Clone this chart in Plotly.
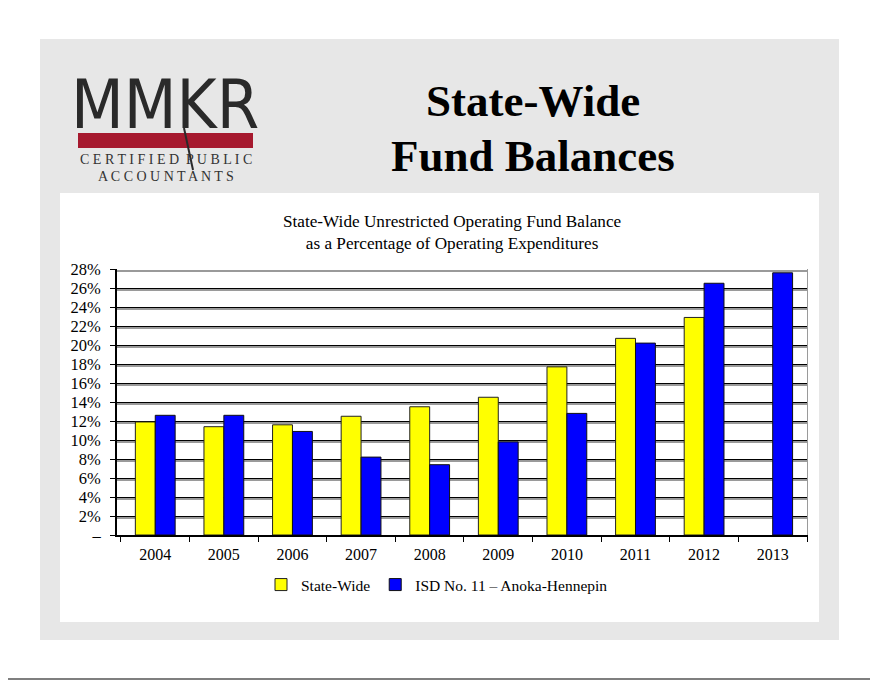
#!/usr/bin/env python3
"""
State-wide fund balance slide: unrestricted operating fund balance as a
percentage of operating expenditures, State-Wide vs ISD No. 11.
"""

import plotly.graph_objects as go

# ─────────────────────────── data ────────────────────────────────────────────
years = ["2004", "2005", "2006", "2007", "2008",
         "2009", "2010", "2011", "2012", "2013"]
state_wide = [11.9, 11.4, 11.6, 12.5, 13.5, 14.5, 17.7, 20.7, 22.9, None]
isd_11 = [12.6, 12.6, 10.9, 8.2, 7.4, 9.8, 12.8, 20.2, 26.5, 27.6]

y_ticks = list(range(0, 30, 2))
y_tick_text = ["–"] + [f"{v}%" for v in y_ticks[1:]]

SERIF = "Liberation Serif, Times New Roman, serif"
W, H = 878, 680
OFF = 8  # the page body adds an 8 px margin; page coords below are screen coords
# plot area on screen: x 117..807, y 269..535
ML, MR, MT, MB = 117 - OFF, W - (807 - OFF), 269 - OFF, H - (535 - OFF)


# ─────────────────────────── helpers ─────────────────────────────────────────
def px(x):
    """screen pixel x -> paper fraction"""
    return (x - OFF - ML) / (W - ML - MR)


def py(y):
    """screen pixel y (from top) -> paper fraction"""
    return (H - MB - (y - OFF)) / (H - MT - MB)


def rect(x0, y0, x1, y1, colour):
    return dict(type="rect", xref="paper", yref="paper", layer="below",
                x0=px(x0), x1=px(x1), y0=py(y1), y1=py(y0),
                fillcolor=colour, line=dict(width=0))


def note(text, x, y, size, colour="black", family=SERIF, xanchor="center"):
    return dict(text=text, x=px(x), y=py(y), xref="paper", yref="paper",
                xanchor=xanchor, yanchor="middle", showarrow=False,
                font=dict(family=family, size=size, color=colour))


# ─────────────────────────── figure ──────────────────────────────────────────
fig = go.Figure()
fig.add_trace(go.Bar(
    x=years, y=state_wide, name="State-Wide",
    marker=dict(color="#FFFF00", line=dict(color="#222222", width=1)),
))
fig.add_trace(go.Bar(
    x=years, y=isd_11, name="ISD No. 11 – Anoka-Hennepin",
    marker=dict(color="#0000FF", line=dict(color="#111111", width=1)),
))
# invisible trace carrying the offset axis (grid-line shadow + right border)
fig.add_trace(go.Scatter(x=[years[0]], y=[None], yaxis="y2",
                         showlegend=False, hoverinfo="skip"))

shapes = [
    rect(40, 39, 839, 640, "#e7e7e7"),   # slide background
    rect(60, 193, 819, 622, "white"),    # chart panel
    rect(78, 133, 253, 148, "#a6192e"),  # logo bar
    dict(type="line", xref="paper", yref="paper",
         x0=px(184), y0=py(128), x1=px(193), y1=py(170),
         line=dict(color="#2a2a2a", width=2)),
    dict(type="line", xref="paper", yref="paper",
         x0=px(0), y0=py(679), x1=px(878), y1=py(679),
         line=dict(color="#555555", width=1.5)),
]

annotations = [
    note("MMKR", 165, 105, 68, colour="#2a2a2a",
         family="Liberation Sans Narrow, DejaVu Sans Condensed, Arial Narrow, sans-serif"),
    note("C E R T I F I E D\u2002P U B L I C", 166, 159, 14, colour="#333333"),
    note("A C C O U N T A N T S", 166, 176, 14, colour="#333333"),
    note("<b>State-Wide</b>", 533, 101, 45),
    note("<b>Fund Balances</b>", 533, 156, 45),
    note("State-Wide Unrestricted Operating Fund Balance<br>"
         "as a Percentage of Operating Expenditures", 452, 232, 17.2),
]

fig.update_layout(
    width=W, height=H,
    margin=dict(l=ML, r=MR, t=MT, b=MB),
    paper_bgcolor="white", plot_bgcolor="white",
    barmode="group", bargap=0.42, bargroupgap=0,
    font=dict(family=SERIF, size=16, color="black"),
    xaxis=dict(
        type="category", showline=True, linecolor="black", linewidth=2,
        ticks="outside", tickson="boundaries", ticklen=5, tickcolor="black",
        showgrid=False, tickfont=dict(size=16), ticklabelstandoff=4,
    ),
    yaxis=dict(
        range=[0, 28], tickvals=y_ticks, ticktext=y_tick_text,
        showline=True, linecolor="black", linewidth=2,
        ticks="outside", ticklen=5, tickcolor="black",
        showgrid=True, gridcolor="black", gridwidth=1,
        zeroline=False, tickfont=dict(size=16.5), ticklabelstandoff=6,
    ),
    yaxis2=dict(
        overlaying="y", side="right", range=[0.16, 28.16],
        tickvals=y_ticks[1:], showticklabels=False,
        showgrid=True, gridcolor="#9a9a9a", gridwidth=1.5,
        showline=True, linecolor="#9a9a9a", linewidth=1, zeroline=False,
    ),
    legend=dict(
        orientation="h", x=px(437), xanchor="center", y=py(585),
        yanchor="middle", font=dict(size=15.5), itemwidth=30,
        bgcolor="rgba(0,0,0,0)",
    ),
    shapes=shapes,
    annotations=annotations,
)

fig.write_html("out.html")
